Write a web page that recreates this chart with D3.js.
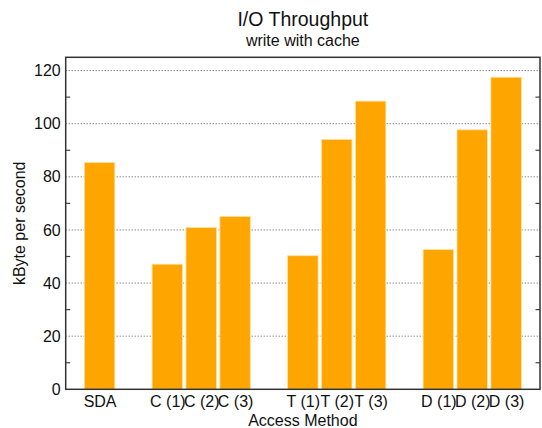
<!DOCTYPE html>
<html>
<head>
<meta charset="utf-8">
<script src="https://cdn.jsdelivr.net/npm/d3@7"></script>
<style>
  html, body { margin: 0; padding: 0; background: #fff; }
  svg { display: block; font-family: "Liberation Sans", Arial, sans-serif; }
</style>
</head>
<body>
<svg id="chart" width="542" height="428"></svg>
<script>
// Access methods, in plot order, with their slot index on the x axis
const categories = ["SDA", "C (1)", "C (2)", "C (3)", "T (1)", "T (2)", "T (3)", "D (1)", "D (2)", "D (3)"];
const slots = [0, 2, 3, 4, 6, 7, 8, 10, 11, 12];
// Write throughput with cache, kByte per second
const throughput = [85.4, 47.1, 60.9, 65.1, 50.3, 94.1, 108.5, 52.6, 97.7, 117.5];
const majorTicks = [0, 20, 40, 60, 80, 100, 120];
const minorTicks = [10, 30, 50, 70, 90, 110];

const svg = d3.select("#chart");
const margin = { left: 65.7, right: 2, top: 57.3, bottom: 38.7 };
const W = 542, H = 428;
const plotW = W - margin.left - margin.right;
const plotH = H - margin.top - margin.bottom;

const x = d3.scaleLinear().domain([-1, 13]).range([0, plotW]);
const y = d3.scaleLinear().domain([0, 125]).range([plotH, 0]);
const slotW = x(1) - x(0);
const barW = slotW * 0.9;

const g = svg.append("g").attr("transform", `translate(${margin.left},${margin.top})`);

// dotted grid at major ticks
g.append("g")
  .selectAll("line")
  .data(majorTicks.filter(d => d > 0))
  .join("line")
  .attr("x1", 0).attr("x2", plotW)
  .attr("y1", d => y(d)).attr("y2", d => y(d))
  .attr("stroke", "#555")
  .attr("stroke-width", 1)
  .attr("stroke-dasharray", "1,2");

// bars
g.append("g")
  .selectAll("rect")
  .data(throughput)
  .join("rect")
  .attr("x", (d, i) => x(slots[i]) - barW / 2)
  .attr("width", barW)
  .attr("y", d => y(d))
  .attr("height", d => y(0) - y(d))
  .attr("fill", "#ffa500")
  .attr("stroke", "#ffe1a6")
  .attr("stroke-width", 0.8);

// minor ticks, pointing inward on both sides
const minor = g.append("g").attr("stroke", "#444").attr("stroke-width", 1.2);
minor.selectAll("line.l")
  .data(minorTicks)
  .join("line")
  .attr("class", "l")
  .attr("x1", 0).attr("x2", 4.5)
  .attr("y1", d => y(d)).attr("y2", d => y(d));
minor.selectAll("line.r")
  .data(minorTicks)
  .join("line")
  .attr("class", "r")
  .attr("x1", plotW - 4.5).attr("x2", plotW)
  .attr("y1", d => y(d)).attr("y2", d => y(d));

// y tick labels
const yAxis = d3.axisLeft(y).tickValues(majorTicks).tickSize(0).tickPadding(5);
g.append("g")
  .call(yAxis)
  .call(s => s.select(".domain").remove())
  .selectAll("text")
  .attr("font-size", 16)
  .attr("font-family", "Liberation Sans, Arial, sans-serif")
  .attr("fill", "#111");

// x tick labels
const xAxis = d3.axisBottom(x).tickValues(slots).tickFormat((d, i) => categories[i]).tickSize(0).tickPadding(6);
g.append("g")
  .attr("transform", `translate(0,${plotH})`)
  .call(xAxis)
  .call(s => s.select(".domain").remove())
  .selectAll("text")
  .attr("font-size", 16)
  .attr("font-family", "Liberation Sans, Arial, sans-serif")
  .attr("fill", "#111");

// plot frame
g.append("rect")
  .attr("x", 0).attr("y", 0)
  .attr("width", plotW).attr("height", plotH)
  .attr("fill", "none")
  .attr("stroke", "#333")
  .attr("stroke-width", 1.5);

// titles
svg.append("text")
  .attr("x", margin.left + plotW / 2).attr("y", 26)
  .attr("text-anchor", "middle")
  .attr("font-size", 19.5)
  .attr("fill", "#111")
  .text("I/O Throughput");
svg.append("text")
  .attr("x", margin.left + plotW / 2).attr("y", 46)
  .attr("text-anchor", "middle")
  .attr("font-size", 16)
  .attr("fill", "#111")
  .text("write with cache");
svg.append("text")
  .attr("x", margin.left + plotW / 2).attr("y", 426)
  .attr("text-anchor", "middle")
  .attr("font-size", 16)
  .attr("fill", "#111")
  .text("Access Method");
svg.append("text")
  .attr("transform", `translate(24.5,${margin.top + plotH / 2}) rotate(-90)`)
  .attr("text-anchor", "middle")
  .attr("font-size", 16)
  .attr("fill", "#111")
  .text("kByte per second");
</script>
</body>
</html>
